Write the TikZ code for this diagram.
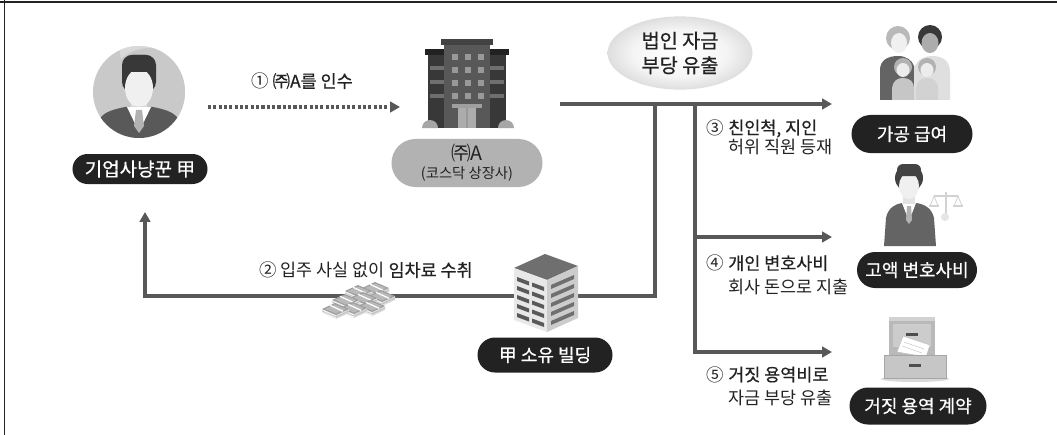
\documentclass[tikz,border=0pt]{standalone}
\usepackage{fontspec}
\setmainfont{Noto Sans CJK KR}
\newfontfamily\medfont{Noto Sans CJK KR}[FakeBold=0.6]
\usetikzlibrary{arrows.meta,shapes.geometric,shapes.misc}

\definecolor{ink}{RGB}{34,34,34}
\definecolor{pipe}{RGB}{88,88,88}
\definecolor{pillgray}{RGB}{178,178,178}
\pgfdeclareradialshading{leakshade}{\pgfpoint{0bp}{0bp}}{color(0bp)=(white); color(16bp)=(gray!8); color(50bp)=(gray!75)}

\begin{document}
\begin{tikzpicture}[x=0.25mm, y=-0.25mm, >={Triangle[length=7pt,width=7.5pt]},
	pill/.style={rounded rectangle, fill=ink, text=white, inner sep=0pt, font=\medfont\fontsize{12.8}{15}\selectfont},
	flow/.style={draw=pipe, line width=2.8pt, ->},
	note/.style={anchor=west, align=left, text=ink, font=\fontsize{12.4}{17}\selectfont}]

	\useasboundingbox (0,0) rectangle (1057,435);
	\fill[white] (0,0) rectangle (1057,435);
	\draw[ink, line width=1.4pt] (0,2) -- (1057,2);
	\draw[ink, line width=1.4pt] (4.5,0) -- (4.5,435);

	% hunter
	\node[circle, fill=gray!42, minimum size=23mm, inner sep=0pt] (avatar) at (139,92) {};
	\begin{scope}
		\clip (139,92) circle [radius=46];
		\fill[gray!30] (160,50) circle [radius=40];
		\fill[gray!42] (150,92) circle [radius=44];
		\fill[ink!90, rounded corners=2.5mm] (122,55) rectangle (156,92);
		\fill[gray!22] (131,98) rectangle (147,112);
		\fill[gray!12] (139,88) ellipse [x radius=14, y radius=19];
		\fill[ink!90, rounded corners=2mm] (124,55) rectangle (154,72);
		\fill[ink!75] (92,140) -- (98,122) .. controls (102,113) and (110,110) .. (125,107) -- (153,107) .. controls (168,110) and (176,113) .. (180,122) -- (186,140) -- cycle;
		\fill[white] (127,107) -- (151,107) -- (139,132) -- cycle;
		\fill[gray!60] (136,110) -- (142,110) -- (144,126) -- (139,133) -- (134,126) -- cycle;
	\end{scope}
	\node[pill, minimum width=33.75mm, minimum height=7.5mm, font=\medfont\fontsize{13.5}{15}\selectfont] (hunter) at (140,169) {기업사냥꾼 甲};

	% listed company
	\fill[ink!90] (428,52) rectangle (447,128);
	\fill[ink!90] (487,52) rectangle (506,128);
	\fill[ink] (425,49) rectangle (449,55);
	\fill[ink] (485,49) rectangle (509,55);
	\foreach \cy in {66,80,94} {
		\fill[ink!65] (430,\cy) rectangle ++(14,4);
		\fill[ink!65] (490,\cy) rectangle ++(14,4);
	}
	\fill[pipe] (444,44) rectangle (490,128);
	\fill[ink!85] (441,39) rectangle (493,45);
	\foreach \cx in {452,465,478}
		\foreach \cy in {54,67,80,93}
			\fill[gray!80] (\cx,\cy) rectangle ++(6,6);
	\fill[gray!75] (452,104) rectangle (482,108);
	\fill[gray!65] (458,108) rectangle (476,128);
	\fill[gray!80] (466,108) rectangle (468,128);
	\fill[gray!70] (422,128) arc [start angle=180, end angle=360, radius=8];
	\fill[gray!70] (498,128) arc [start angle=180, end angle=360, radius=8];
	\node[rounded rectangle, fill=pillgray, inner sep=0pt, minimum width=37.75mm, minimum height=12mm, align=center, text=ink, font=\fontsize{10.2}{13}\selectfont] (corp) at (467,163) {{\fontsize{14}{14}\selectfont ㈜A}\\(코스닥 상장사)};

	% step 1
	\coordinate (takeS) at (208,107);
	\coordinate (takeE) at (400,107);
	\draw[draw=pipe, line width=2.6pt, dash pattern=on 2.2pt off 1.6pt, ->] (takeS) -- (takeE);
	\node[note, anchor=center] (take) at (302,81) {① {\medfont ㈜A를 인수}};

	% money flow
	\coordinate (outS) at (560,104);
	\coordinate (outE) at (832,104);
	\coordinate (j1) at (655,104);
	\coordinate (j2) at (695,104);
	\coordinate (rentL) at (145,296);
	\coordinate (rentTip) at (145,212);
	\coordinate (feeE) at (832,237);
	\coordinate (dealE) at (832,352);
	\node[ellipse, shading=leakshade, minimum width=36.25mm, minimum height=16.25mm, align=center, text=ink, font=\medfont\fontsize{14}{17.5}\selectfont] (leak) at (680,53) {법인 자금\\부당 유출};
	\draw[flow] (outS) -- (outE);
	\draw[flow] (j1) |- (rentL) -- (rentTip);
	\draw[flow] (j2) |- (feeE);
	\draw[flow] (j2) |- (dealE);

	% step 2
	\node[note, anchor=center] (rent) at (366,270) {② 입주 사실 없이 {\medfont 임차료 수취}};
	\foreach \bx/\by in {362/288, 345/291, 368/296, 350/298, 332/300, 358/306, 340/308, 322/309} {
		\begin{scope}[shift={(\bx,\by)}]
			\fill[gray!12] (0,0) -- (14,6) -- (14,10) -- (0,4) -- cycle;
			\fill[gray!30] (14,6) -- (27,0) -- (27,4) -- (14,10) -- cycle;
			\draw[gray!60, line width=0.3pt] (0,2) -- (14,8) -- (27,2);
			\fill[gray!75] (0,0) -- (13,-6) -- (27,0) -- (14,6) -- cycle;
			\fill[gray!55] (3,0) -- (13,-4.5) -- (24,0) -- (14,4.5) -- cycle;
			\draw[white, line width=0.9pt] (8,-3.7) -- (21,2.3);
		\end{scope}
	}

	% own building
	\fill[ink!65] (514,268) -- (545,254) -- (578,266) -- (547,280) -- cycle;
	\fill[gray!18] (514,268) -- (547,280) -- (547,332) -- (514,320) -- cycle;
	\fill[gray!40] (547,280) -- (578,266) -- (578,318) -- (547,332) -- cycle;
	\foreach \k in {0,...,4} {
		\fill[ink!75] (517,277+\k*9) -- (529,281.5+\k*9) -- (529,285.5+\k*9) -- (517,281+\k*9) -- cycle;
		\fill[ink!75] (532,282.5+\k*9) -- (544,287+\k*9) -- (544,291+\k*9) -- (532,286.5+\k*9) -- cycle;
		\fill[ink!65] (551,285+\k*9) -- (574,275+\k*9) -- (574,279+\k*9) -- (551,289+\k*9) -- cycle;
	}
	\node[pill, minimum width=33.75mm, minimum height=8.75mm] (ownbldg) at (545,355) {甲 소유 빌딩};

	% step 3
	\fill[ink!70] (880,100) -- (880,70) .. controls (880,60) and (888,56) .. (898,56) .. controls (906,56) and (912,60) .. (914,66) -- (914,100) -- cycle;
	\fill[gray!25] (914,100) -- (914,68) .. controls (918,58) and (926,56) .. (932,56) .. controls (944,56) and (950,62) .. (950,72) -- (950,100) -- cycle;
	\fill[gray!55] (898,38) circle [radius=12];
	\fill[gray!12] (899,43) ellipse [x radius=8, y radius=10];
	\fill[ink!90] (930,37) circle [radius=12];
	\fill[gray!65] (930,43) ellipse [x radius=8.5, y radius=10];
	\fill[gray!45] (892,100) -- (892,88) .. controls (893,81) and (897,78) .. (903,78) .. controls (910,78) and (914,82) .. (914,88) -- (914,100) -- cycle;
	\fill[gray!35] (916,100) -- (916,88) .. controls (917,81) and (921,78) .. (927,78) .. controls (934,78) and (938,82) .. (938,88) -- (938,100) -- cycle;
	\fill[gray!60] (903,67) circle [radius=9];
	\fill[gray!15] (903,70) ellipse [x radius=6.5, y radius=7];
	\fill[gray!60] (927,67) circle [radius=9];
	\fill[gray!15] (927,70) ellipse [x radius=6.5, y radius=7];
	\node[pill, minimum width=30.25mm, minimum height=9.5mm] (salary) at (912,134) {가공 급여};
	\node[note] (kin) at (702,137) {③ {\medfont 친인척, 지인}\\[-3.5pt]\phantom{③ }허위 직원 등재};

	% step 4
	\fill[ink!70] (884,246) -- (886,218) .. controls (888,208) and (895,204) .. (902,203) -- (916,203) .. controls (924,204) and (932,208) .. (934,218) -- (936,246) -- cycle;
	\fill[white] (902,203) -- (916,203) -- (909,221) -- cycle;
	\fill[gray!60] (907,206) -- (911,206) -- (912,220) -- (909,224) -- (906,220) -- cycle;
	\fill[ink!85] (909,178) circle [radius=14];
	\fill[gray!22] (903,190) rectangle (915,204);
	\fill[gray!12] (909,186) ellipse [x radius=10, y radius=13];
	\fill[ink!85, rounded corners=1.5mm] (897,164) rectangle (921,176);
	\draw[gray!35, line width=1.2pt] (946,192) -- (946,214);
	\draw[gray!35, line width=1.2pt] (934,196) -- (958,196);
	\draw[gray!35, line width=0.6pt] (930,206) -- (934,196) -- (938,206);
	\draw[gray!35, line width=0.6pt] (954,206) -- (958,196) -- (962,206);
	\draw[gray!35, line width=1.6pt] (929,206) -- (939,206);
	\draw[gray!35, line width=1.6pt] (953,206) -- (963,206);
	\fill[gray!20] (945,217) circle [radius=4];
	\node[pill, minimum width=30mm, minimum height=9mm] (lawfee) at (917,270) {고액 변호사비};
	\node[note, font=\fontsize{12.4}{17}\selectfont] (lawyer) at (702,275) {④ {\medfont 개인 변호사비}\\\phantom{④ }회사 돈으로 지출};

	% step 5
	\fill[gray!30] (915,379) ellipse [x radius=34, y radius=3];
	\fill[gray!55] (889,317) rectangle (935,372);
	\fill[gray!35] (889,317) rectangle (935,321);
	\fill[gray!40] (893,324) rectangle (931,347);
	\fill[ink!80] (906,333) rectangle (918,336);
	\fill[white] (897,352) -- (903,336) -- (930,345) -- (926,357) -- cycle;
	\draw[gray!50, line width=0.4pt] (897,352) -- (903,336) -- (930,345) -- (926,357) -- cycle;
	\draw[gray!50, line width=0.3pt] (904,342) -- (924,349) (902,346) -- (922,353);
	\fill[gray!45] (884,355) rectangle (946,378);
	\draw[gray!70, line width=0.6pt] (884,355) rectangle (946,378);
	\fill[ink!80] (909,364) rectangle (921,367);
	\node[pill, minimum width=34.25mm, minimum height=9.25mm] (fakedeal) at (918,406) {거짓 용역 계약};
	\node[note, font=\fontsize{12.4}{16.4}\selectfont] (service) at (702,386) {⑤ {\medfont 거짓 용역비로}\\\phantom{⑤ }자금 부당 유출};
\end{tikzpicture}
\end{document}
